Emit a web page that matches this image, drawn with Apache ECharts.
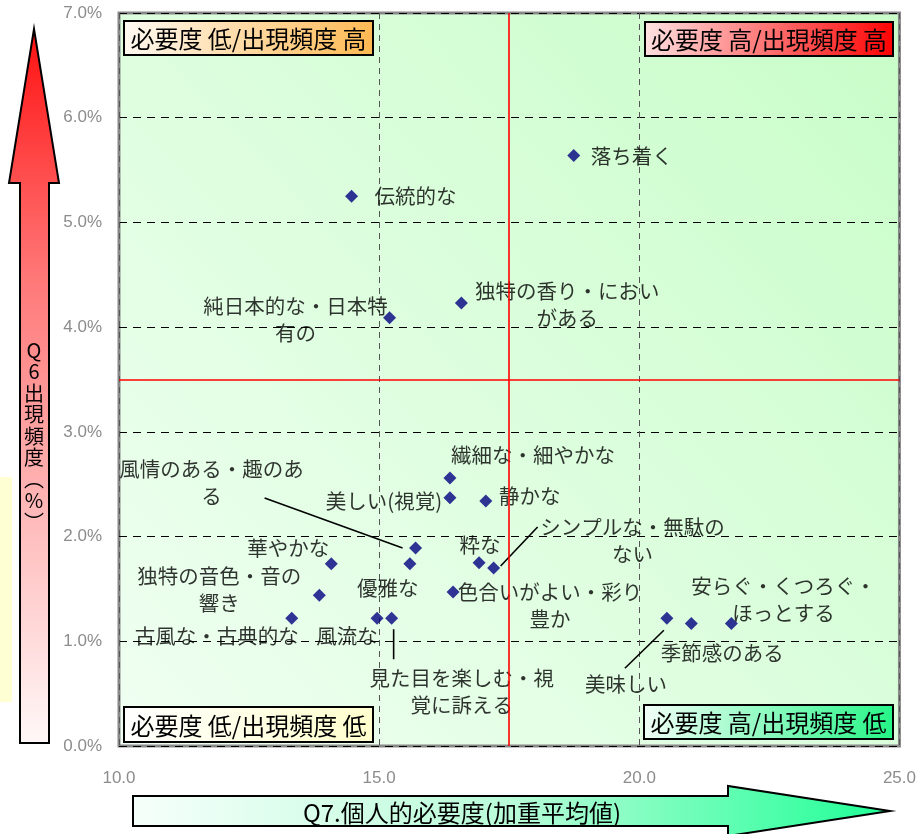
<!DOCTYPE html>
<html>
<head>
<meta charset="utf-8">
<script src="https://cdn.jsdelivr.net/npm/echarts@6/dist/echarts.min.js"></script>
<style>
html,body{margin:0;padding:0;background:#fff;}
#chart{width:919px;height:834px;}
</style>
</head>
<body>
<div id="chart"></div>
<script>
// ---- data ----
const names = [
  '落ち着く','伝統的な','純日本的な・日本特\n有の','独特の香り・におい\nがある',
  '繊細な・細やかな','美しい(視覚)','静かな','粋な','シンプルな・無駄の\nない',
  '風情のある・趣のあ\nる','優雅な','華やかな','独特の音色・音の\n響き','色合いがよい・彩り\n豊か',
  '古風な・古典的な','風流な','見た目を楽しむ・視\n覚に訴える','美味しい','季節感のある','安らぐ・くつろぐ・\nほっとする'
];
const necessity = [18.74,14.47,15.20,16.58,16.36,16.36,17.05,16.92,17.20,15.70,15.59,14.08,13.85,16.42,13.32,14.96,15.24,20.53,21.00,21.77];
const frequency = [5.64,5.25,4.09,4.23,2.56,2.37,2.34,1.75,1.70,1.89,1.74,1.74,1.44,1.47,1.22,1.22,1.22,1.22,1.17,1.17];
const xTicks = [10, 15, 20, 25];
const yTicks = [0,1,2,3,4,5,6,7];
const xMid = 17.5, yMid = 3.5;

// ---- label layout (pixel offsets of label centre from its point) ----
const labelOffsets = [
  [58,1],[64,0],[-94,2],[106,2],
  [83,-23],[-66,3],[44,-5],[1,-18],[139,-27],
  [-204,-65],[-22,24],[-43,-16],[-100,-6],[97,14],
  [-75,18],[-30,18],[70,73],[-41,66],[31,30],[52,-24]
];
// leader lines: point index, start offset, end offset (pixels)
const leaders = [
  {i:9,  from:[-13,0], to:[-151,-50]},
  {i:8,  from:[7,-2], to:[44,-41]},
  {i:17, from:[-3,12], to:[-42,50]},
  {i:16, from:[2,11], to:[2,41]}
];

const chart = echarts.init(document.getElementById('chart'), null, {renderer:'canvas'});
const LG = echarts.graphic.LinearGradient;
const CJK = '"Noto Sans CJK JP","Noto Sans",sans-serif';

const scatterData = names.map((n,i)=>({
  name:n, value:[necessity[i], frequency[i]],
  label:{offset:labelOffsets[i]}
}));

function quadBox(x,y,w,h,text,stops){
  return {
    type:'group', x:x, y:y, z:100,
    children:[
      {type:'rect', shape:{x:0,y:0,width:w,height:h},
       style:{fill:new LG(0,0,1,1,stops), stroke:'#000', lineWidth:2}},
      {type:'text', x:w/2, y:h/2+1,
       style:{text:text, fill:'#000', fontSize:24, fontFamily:CJK, align:'center', verticalAlign:'middle'}}
    ]
  };
}

const option = {
  animation:false,
  backgroundColor:'#ffffff',
  grid:{left:119, right:19, top:13, bottom:88, show:true,
    borderColor:'#888888', borderWidth:3,
    backgroundColor:new LG(0,1,1,0,[{offset:0,color:'#f0fff2'},{offset:1,color:'#c8fdc8'}])},
  xAxis:{
    type:'value', min:xTicks[0], max:xTicks[xTicks.length-1], interval:5,
    axisLine:{show:false}, axisTick:{show:false},
    axisLabel:{color:'#8c8c8c', fontSize:17, fontFamily:'"Liberation Sans",Arial,sans-serif', margin:24,
      formatter:v=>v.toFixed(1)},
    splitLine:{show:true, lineStyle:{color:'#555555', type:[6,5], width:1}}
  },
  yAxis:{
    type:'value', min:yTicks[0], max:yTicks[yTicks.length-1], interval:1,
    axisLine:{show:false}, axisTick:{show:false},
    axisLabel:{color:'#8c8c8c', fontSize:17, fontFamily:'"Liberation Sans",Arial,sans-serif', margin:17,
      formatter:v=>v.toFixed(1)+'%'},
    splitLine:{show:true, lineStyle:{color:'#000000', type:[8,6], width:1}}
  },
  series:[
    {
      type:'custom', z:3, silent:true,
      data:leaders.map(l=>[necessity[l.i], frequency[l.i]]),
      renderItem:(params, api)=>{
        const p = api.coord([api.value(0), api.value(1)]);
        const L = leaders[params.dataIndex];
        return {type:'line', shape:{x1:p[0]+L.from[0], y1:p[1]+L.from[1], x2:p[0]+L.to[0], y2:p[1]+L.to[1]},
          style:{stroke:'#000', lineWidth:1.6}};
      }
    },
    {
      type:'scatter', z:4,
      symbol:'diamond', symbolSize:13,
      itemStyle:{color:'#000080'},
      label:{show:true, position:'inside', formatter:'{b}', color:'#000', fontSize:20.5, fontFamily:CJK,
        lineHeight:27, align:'center', verticalAlign:'middle'},
      data:scatterData
    },
    {
      type:'line', z:2, silent:true, data:[], symbol:'none',
      markLine:{silent:true, symbol:['none','none'], label:{show:false},
        itemStyle:{color:'#ff0000'},
        lineStyle:{color:'#ff0000', width:1.6, type:'solid', opacity:1},
        emphasis:{disabled:true},
        data:[{xAxis:xMid},{yAxis:yMid}]}
    }
  ],
  graphic:[
    {type:'rect', z:1, shape:{x:0,y:477,width:12,height:225}, style:{fill:'#ffffd4'}},
    // y-axis arrow
    {type:'polygon', z:100,
     shape:{points:[[20,743],[49,743],[49,183],[59,183],[34,29],[9,183],[20,183]]},
     style:{fill:new LG(0,0,0,1,[{offset:0,color:'#ff1010'},{offset:0.35,color:'#ff7878'},{offset:1,color:'#fff8f8'}]),
       stroke:'#000', lineWidth:2}},
    {type:'text', z:101, x:34, y:436,
     style:{text:'Q\n6\n出\n現\n頻\n度\n︵\n%\n︶', fill:'#000', fontSize:20, lineHeight:21.5,
       fontFamily:CJK, align:'center', verticalAlign:'middle'}},
    // x-axis arrow
    {type:'polygon', z:100,
     shape:{points:[[133,796],[728,796],[728,786],[890,811],[728,836],[728,826],[133,826]]},
     style:{fill:new LG(0,0,1,0,[{offset:0,color:'#f6fffb'},{offset:0.5,color:'#b8fcd8'},{offset:1,color:'#1eff96'}]),
       stroke:'#000', lineWidth:2}},
    {type:'text', z:101, x:462, y:813,
     style:{text:'Q7.個人的必要度(加重平均値)', fill:'#000', fontSize:24, fontFamily:CJK,
       align:'center', verticalAlign:'middle'}},
    quadBox(124,21,249,34,'必要度 低/出現頻度 高',[{offset:0,color:'#fffaf4'},{offset:1,color:'#ffb850'}]),
    quadBox(645,22,248,34,'必要度 高/出現頻度 高',[{offset:0,color:'#ffe4e4'},{offset:1,color:'#ff0000'}]),
    quadBox(124,707,249,35,'必要度 低/出現頻度 低',[{offset:0,color:'#ffffff'},{offset:1,color:'#ffffcc'}]),
    quadBox(644,705,249,34,'必要度 高/出現頻度 低',[{offset:0,color:'#f4fff8'},{offset:1,color:'#22f585'}])
  ]
};
chart.setOption(option);
</script>
</body>
</html>
